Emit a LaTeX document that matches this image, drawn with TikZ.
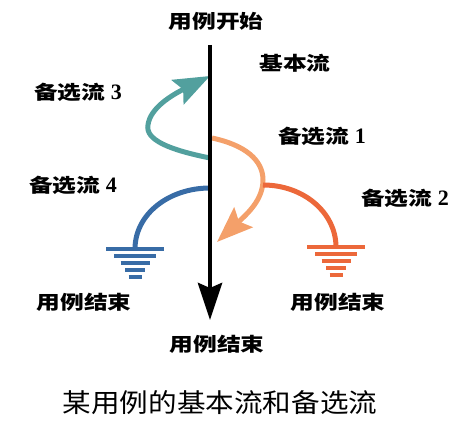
\documentclass[tikz,border=0pt]{standalone}
\usepackage{fontspec}
\setmainfont{Liberation Serif}
\newfontfamily\cjkb{Noto Sans CJK SC}[FakeStretch=1.25]
\newfontfamily\cjkr{Noto Sans CJK SC}[FakeStretch=1.1]
\usetikzlibrary{arrows.meta}

\definecolor{flowteal}{RGB}{82,160,158}
\definecolor{flowpeach}{RGB}{244,160,106}
\definecolor{flowblue}{RGB}{56,108,166}
\definecolor{flowred}{RGB}{236,104,58}

\newcommand{\flownum}[1]{{\rmfamily\fontsize{22}{22}\selectfont #1}}

\begin{document}
\begin{tikzpicture}[x=1pt, y=-1pt,
    flowtext/.style={font=\cjkb\bfseries\fontsize{19}{19}\selectfont, inner sep=0pt},
    caption/.style={font=\cjkr\fontsize{26}{26}\selectfont, inner sep=0pt},
    mainflow/.style={line width=4.5pt, -{Stealth[length=37pt, width=24pt, inset=5pt]}},
    altflow/.style={line width=5pt, -{Stealth[length=36pt, width=27pt, inset=6pt]}},
    endflow/.style={line width=5pt},
    ground/.style={line width=3.8pt}
]
\useasboundingbox (0,0) rectangle (471,427);

% Testi
\node[flowtext] (begin) at (216,21) {用例开始};
\node[flowtext] (basic) at (295,63) {基本流};
\node[flowtext] (alt3) at (78,92) {备选流 \flownum{3}};
\node[flowtext] (alt1) at (322,136) {备选流 \flownum{1}};
\node[flowtext] (alt4) at (73,185) {备选流 \flownum{4}};
\node[flowtext] (alt2) at (405,198) {备选流 \flownum{2}};
\node[flowtext] (end4) at (84,302) {用例结束};
\node[flowtext] (end2) at (338,302) {用例结束};
\node[flowtext] (endmain) at (217,344) {用例结束};
\node[caption] (title) at (220,403) {某用例的基本流和备选流};

% Punti sul flusso
\coordinate (start) at (210,45);
\coordinate (finish) at (210,320);
\coordinate (from3) at (210,158);
\coordinate (to3) at (210,76);
\coordinate (from1) at (212,138);
\coordinate (to1) at (217,242);
\coordinate (from4) at (210,188);
\coordinate (ground4) at (135,249);
\coordinate (from2) at (263,185);
\coordinate (ground2) at (336,247);

% Flussi alternativi
\draw[altflow, flowteal] (from3) .. controls (170,150) and (145,140) .. (148,125)
    .. controls (150,108) and (172,95) .. (to3);
\draw[altflow, flowpeach] (from1) .. controls (245,145) and (263,160) .. (263,180)
    .. controls (263,200) and (247,214) .. (to1);
\draw[endflow, flowblue] (from4) .. controls (169,188) and (135,214) .. (ground4);
\draw[endflow, flowred] (from2) .. controls (304,185) and (336,213) .. (ground2);

% Flusso base
\draw[mainflow, black] (start) -- (finish);

% Terra
\foreach \w/\dy in {58/0, 42/7, 29/14, 20/21, 13/28} {
    \draw[ground, flowblue] ([xshift=-\w/2, yshift=-\dy]ground4) -- ++(\w,0);
    \draw[ground, flowred] ([xshift=-\w/2, yshift=-\dy]ground2) -- ++(\w,0);
}

\end{tikzpicture}
\end{document}
